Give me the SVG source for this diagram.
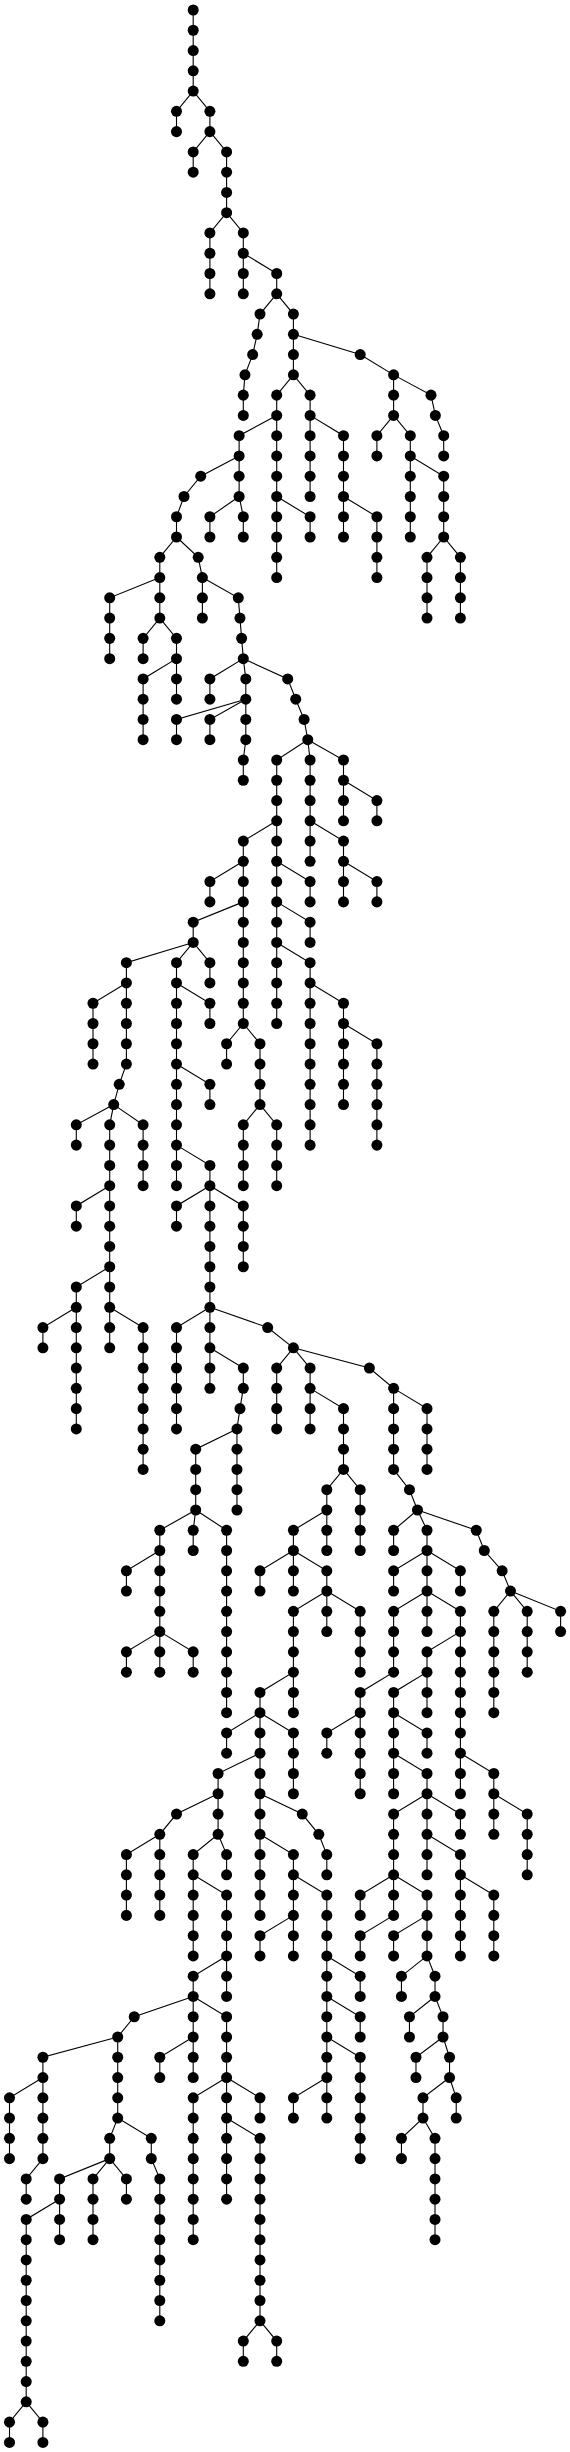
<svg xmlns="http://www.w3.org/2000/svg" width="570" height="2452" viewBox="0 0 570 2452">
<style>
#edges path{fill:none;stroke:#000;stroke-width:1.1;vector-effect:non-scaling-stroke}
#nodes use{fill:#000}
</style>
<defs><ellipse id="d" cx="0" cy="0" rx="0.33" ry="0.272"/></defs>
<rect width="570" height="2452" fill="#fff"/>
<g transform="matrix(16.7 0 0 20.27 9.5 10)">
<g id="edges">
<path d="M11 0V4"/><path d="M11 4L10 5V6"/><path d="M11 4L12 5V6"/><path d="M12 6L11 7V8"/><path d="M12 6L13 7V10"/>
<path d="M13 10L12 11V14"/><path d="M13 10L14 11V14"/><path d="M14 12L16 13V14"/>
<path d="M16 14L15 15L14.83 16L14.56 17L14.1 18L14 19V20"/><path d="M16 14L17 15V18"/><path d="M17 16L21 17L23 18"/>
<path d="M23 18V20"/><path d="M23 18L25.24 19L25.5 20L26 21V22"/><path d="M17 18L16 19V28"/><path d="M17 18L18 19V24"/>
<path d="M16 20L13.75 21V24"/><path d="M13.75 22L11.45 23L10.45 24L10 25V26"/><path d="M13.75 24L12 25V26"/><path d="M13.75 24L14 25V26"/>
<path d="M16 24L18 25V26"/><path d="M18 20L20 21V26"/><path d="M20 24L22 25V28"/><path d="M23 20L22 21V22"/><path d="M23 20L24 21V26"/>
<path d="M24 22L26 23V26"/><path d="M26 26L25 27V30"/><path d="M26 26L27 27V30"/><path d="M10 26L9 27V30"/><path d="M10 26L11.3 27L11.55 28V30"/>
<path d="M9 28L6 29V32"/><path d="M11.55 28L13.7 29L13.8 30L13.9 31L14 32"/><path d="M9 30L8 31V32"/><path d="M9 30L10 31V32"/>
<path d="M10 32L8 33V36"/><path d="M10 32V34"/><path d="M14 32L12 33V34"/><path d="M14 32L14.15 33V36L14 37V38"/>
<path d="M14.15 34L10 35V36"/><path d="M14.15 34L12 35V36"/><path d="M14 32L16.66 33L17.14 34L17.64 35L17.86 36"/>
<path d="M17.86 36L16 37V50"/><path d="M17.86 36L18 37V42"/><path d="M17.86 36L20 37V40"/><path d="M20 38L22 39V40"/>
<path d="M16 40L14 41V50"/><path d="M18 40L20 41V44"/><path d="M20 42L22 43V44"/><path d="M14 42L12 43V44"/><path d="M14 44L11 45V46"/>
<path d="M16 42L18 43V44"/><path d="M16 44L18 45V46"/><path d="M16 46L18 47V56"/><path d="M18 48L20 49V54"/><path d="M20 50L22 51V56"/>
<path d="M11 46L7 47V52L6.57 53L6.24 54"/><path d="M11 46L10 47V58"/><path d="M11 46L12 47V48"/><path d="M7 48L5 49V52"/><path d="M10 48L12 49V50"/>
<path d="M14 50L13 51V52"/><path d="M14 50L15 51V54"/><path d="M15 54L14 55V58"/><path d="M15 54L16 55V58"/><path d="M10 52L12 53V54"/>
<path d="M10 56L12 57V58"/><path d="M12 58L10 59V60"/><path d="M12 58V68"/><path d="M12 58L14 59V62"/>
<path d="M6.24 54L4 55V56"/><path d="M6.24 54L6 55V66"/><path d="M6.24 54L8 55V58"/><path d="M6 58L4 59V60"/><path d="M6 62L4 63V70"/>
<path d="M4 64L2 65V66"/><path d="M6 64L8 65V72"/><path d="M12 64L10 65V70"/><path d="M12 66L14 67V68L13.8 69L13.62 70V74"/>
<path d="M12 64L15.46 65L17 66"/><path d="M17 66L16 67V70"/><path d="M17 66L18 67V70"/><path d="M17 66L21.55 67L23 68V72L23.95 73L24.43 74"/>
<path d="M18 68L20 69V72"/><path d="M23 68L25 69V72"/><path d="M13.62 70L11.15 71V74"/><path d="M11.15 74L9 75V80"/><path d="M11.15 74L11 75V76"/>
<path d="M11.15 74L13 75V84"/><path d="M9 76L7 77V78"/><path d="M20 72L19 73V76"/><path d="M20 72L21 73V76"/><path d="M19 74L17 75V78"/>
<path d="M17 76L15 77V78"/><path d="M17 76L19 77V78"/><path d="M19 78L17 79V84"/><path d="M19 78V80"/><path d="M19 78L21 79V82"/>
<path d="M24.43 74L23 75V76"/><path d="M24.43 74L25 75V80"/><path d="M24.43 74L27.95 75L28.43 76L29.5 77L30 78"/>
<path d="M25 76L23 77V78"/><path d="M25 76L27 77V78"/><path d="M25 78L23 79V82"/><path d="M25 78L27 79V88"/>
<path d="M30 78L29 79V84"/><path d="M30 78L31 79V82"/><path d="M30 78L33 79V80"/>
<path d="M9 80L7 81V82"/><path d="M9 80V82"/><path d="M9 80L11 81V82"/><path d="M17 82L15 83V94"/><path d="M15 84L13 85V86"/>
<path d="M15 84L17 85V88"/><path d="M15 86L12.49 87V90"/><path d="M12.49 88L10 89L9 90V94"/><path d="M9 90L7 91V94"/>
<path d="M12.49 90L11 91V96"/><path d="M12.49 90L13 91V92"/><path d="M11 92L13 93V98"/><path d="M13 96L11 97V98"/>
<path d="M11 98L7.47 99L6.48 100V104"/><path d="M11 98V102"/><path d="M11 98L13 99V102"/><path d="M11 100L9 101V102"/>
<path d="M15 88L17.53 89L18.52 90L19 91V92"/><path d="M15 90L17 91V96"/><path d="M17 92L19 93V104"/><path d="M17 94L15 95V96"/>
<path d="M19 96L21 97V98"/><path d="M19 98L21 99V100"/><path d="M19 100L21 101V106"/><path d="M19 102L17 103V104"/>
<path d="M23 82L21 83V84"/><path d="M21 84L19 85V86"/><path d="M21 84V88"/><path d="M27 80L25 81V84"/><path d="M25 82L23 83V88"/>
<path d="M23 84L25 85V86"/><path d="M23 86L25 87V88"/><path d="M25 88L23 89V94"/><path d="M25 88V92"/><path d="M25 88L27 89V90"/>
<path d="M27 86L29 87V90"/><path d="M29 88L31 89V92"/><path d="M25 90L27 91V96"/><path d="M27 92L29 93V96"/>
<path d="M23 92L21 93V94"/><path d="M23 92L25 93V96"/><path d="M23 94L21 95V96"/><path d="M25 94L23 95V96"/>
<path d="M25 96L23.47 97V98"/><path d="M25 96L25.48 97V98"/><path d="M25.48 98L23.95 99V100"/><path d="M25.48 98L25.96 99V100"/>
<path d="M25.96 100L24.34 101V102"/><path d="M25.96 100L26.35 101V102"/><path d="M26.35 102L24.76 103V104"/><path d="M26.35 102L26.75 103V104"/>
<path d="M24.76 104L23.47 105V106"/><path d="M24.76 104L25.48 105V110"/>
<path d="M6.48 104L6 105V106"/><path d="M6.48 104L8.49 105V106L9 107V114"/><path d="M6.48 100L2 101V106"/><path d="M2 102L0 103V106"/>
<path d="M2 106L1 107V108"/><path d="M6 106L3 107V110"/><path d="M6 106L5 107V110"/><path d="M6 106L7 107V108"/><path d="M3 108L1 109V118"/>
<path d="M1 118L0 119V120"/><path d="M1 118L2 119V120"/><path d="M13 102L11 103V110"/><path d="M13 102V108"/><path d="M13 102L15 103V104"/>
<path d="M13 104L15 105V114"/><path d="M15 114L14 115V116"/><path d="M15 114L16 115V116"/>
</g>
<g id="nodes">
<g id="c1_1"><use href="#d" x="11" y="0"/></g><g id="c1_2"><use href="#d" x="11" y="1"/></g><g id="c1_3"><use href="#d" x="11" y="2"/></g><g id="c1_4"><use href="#d" x="11" y="3"/></g><g id="c1_5"><use href="#d" x="11" y="4"/></g>
<g id="c2_1"><use href="#d" x="10" y="5"/></g><g id="c2_2"><use href="#d" x="10" y="6"/></g>
<g id="c3_1"><use href="#d" x="12" y="5"/></g><g id="c3_2"><use href="#d" x="12" y="6"/></g>
<g id="c4_1"><use href="#d" x="11" y="7"/></g><g id="c4_2"><use href="#d" x="11" y="8"/></g>
<g id="c5_1"><use href="#d" x="13" y="7"/></g><g id="c5_2"><use href="#d" x="13" y="8"/></g><g id="c5_3"><use href="#d" x="13" y="9"/></g><g id="c5_4"><use href="#d" x="13" y="10"/></g>
<g id="c6_1"><use href="#d" x="12" y="11"/></g><g id="c6_2"><use href="#d" x="12" y="12"/></g><g id="c6_3"><use href="#d" x="12" y="13"/></g><g id="c6_4"><use href="#d" x="12" y="14"/></g>
<g id="c7_1"><use href="#d" x="14" y="11"/></g><g id="c7_2"><use href="#d" x="14" y="12"/></g><g id="c7_3"><use href="#d" x="14" y="13"/></g><g id="c7_4"><use href="#d" x="14" y="14"/></g>
<g id="c8_1"><use href="#d" x="16" y="13"/></g><g id="c8_2"><use href="#d" x="16" y="14"/></g>
<g id="c9_1"><use href="#d" x="15" y="15"/></g><g id="c9_2"><use href="#d" x="14.83" y="16"/></g><g id="c9_3"><use href="#d" x="14.56" y="17"/></g><g id="c9_4"><use href="#d" x="14.1" y="18"/></g><g id="c9_5"><use href="#d" x="14" y="19"/></g><g id="c9_6"><use href="#d" x="14" y="20"/></g>
<g id="c10_1"><use href="#d" x="17" y="15"/></g><g id="c10_2"><use href="#d" x="17" y="16"/></g><g id="c10_3"><use href="#d" x="17" y="17"/></g><g id="c10_4"><use href="#d" x="17" y="18"/></g>
<g id="c11_1"><use href="#d" x="21" y="17"/></g><g id="c11_2"><use href="#d" x="23" y="18"/></g>
<g id="c12_1"><use href="#d" x="23" y="19"/></g><g id="c12_2"><use href="#d" x="23" y="20"/></g>
<g id="c13_1"><use href="#d" x="25.24" y="19"/></g><g id="c13_2"><use href="#d" x="25.5" y="20"/></g><g id="c13_3"><use href="#d" x="26" y="21"/></g><g id="c13_4"><use href="#d" x="26" y="22"/></g>
<g id="c14_1"><use href="#d" x="16" y="19"/></g><g id="c14_2"><use href="#d" x="16" y="20"/></g><g id="c14_3"><use href="#d" x="16" y="21"/></g><g id="c14_4"><use href="#d" x="16" y="22"/></g><g id="c14_5"><use href="#d" x="16" y="23"/></g><g id="c14_6"><use href="#d" x="16" y="24"/></g><g id="c14_7"><use href="#d" x="16" y="25"/></g><g id="c14_8"><use href="#d" x="16" y="26"/></g><g id="c14_9"><use href="#d" x="16" y="27"/></g><g id="c14_10"><use href="#d" x="16" y="28"/></g>
<g id="c15_1"><use href="#d" x="18" y="19"/></g><g id="c15_2"><use href="#d" x="18" y="20"/></g><g id="c15_3"><use href="#d" x="18" y="21"/></g><g id="c15_4"><use href="#d" x="18" y="22"/></g><g id="c15_5"><use href="#d" x="18" y="23"/></g><g id="c15_6"><use href="#d" x="18" y="24"/></g>
<g id="c16_1"><use href="#d" x="13.75" y="21"/></g><g id="c16_2"><use href="#d" x="13.75" y="22"/></g><g id="c16_3"><use href="#d" x="13.75" y="23"/></g><g id="c16_4"><use href="#d" x="13.75" y="24"/></g>
<g id="c17_1"><use href="#d" x="11.45" y="23"/></g><g id="c17_2"><use href="#d" x="10.45" y="24"/></g><g id="c17_3"><use href="#d" x="10" y="25"/></g><g id="c17_4"><use href="#d" x="10" y="26"/></g>
<g id="c18_1"><use href="#d" x="12" y="25"/></g><g id="c18_2"><use href="#d" x="12" y="26"/></g>
<g id="c19_1"><use href="#d" x="14" y="25"/></g><g id="c19_2"><use href="#d" x="14" y="26"/></g>
<g id="c20_1"><use href="#d" x="18" y="25"/></g><g id="c20_2"><use href="#d" x="18" y="26"/></g>
<g id="c21_1"><use href="#d" x="20" y="21"/></g><g id="c21_2"><use href="#d" x="20" y="22"/></g><g id="c21_3"><use href="#d" x="20" y="23"/></g><g id="c21_4"><use href="#d" x="20" y="24"/></g><g id="c21_5"><use href="#d" x="20" y="25"/></g><g id="c21_6"><use href="#d" x="20" y="26"/></g>
<g id="c22_1"><use href="#d" x="22" y="25"/></g><g id="c22_2"><use href="#d" x="22" y="26"/></g><g id="c22_3"><use href="#d" x="22" y="27"/></g><g id="c22_4"><use href="#d" x="22" y="28"/></g>
<g id="c23_1"><use href="#d" x="22" y="21"/></g><g id="c23_2"><use href="#d" x="22" y="22"/></g>
<g id="c24_1"><use href="#d" x="24" y="21"/></g><g id="c24_2"><use href="#d" x="24" y="22"/></g><g id="c24_3"><use href="#d" x="24" y="23"/></g><g id="c24_4"><use href="#d" x="24" y="24"/></g><g id="c24_5"><use href="#d" x="24" y="25"/></g><g id="c24_6"><use href="#d" x="24" y="26"/></g>
<g id="c25_1"><use href="#d" x="26" y="23"/></g><g id="c25_2"><use href="#d" x="26" y="24"/></g><g id="c25_3"><use href="#d" x="26" y="25"/></g><g id="c25_4"><use href="#d" x="26" y="26"/></g>
<g id="c26_1"><use href="#d" x="25" y="27"/></g><g id="c26_2"><use href="#d" x="25" y="28"/></g><g id="c26_3"><use href="#d" x="25" y="29"/></g><g id="c26_4"><use href="#d" x="25" y="30"/></g>
<g id="c27_1"><use href="#d" x="27" y="27"/></g><g id="c27_2"><use href="#d" x="27" y="28"/></g><g id="c27_3"><use href="#d" x="27" y="29"/></g><g id="c27_4"><use href="#d" x="27" y="30"/></g>
<g id="c28_1"><use href="#d" x="9" y="27"/></g><g id="c28_2"><use href="#d" x="9" y="28"/></g><g id="c28_3"><use href="#d" x="9" y="29"/></g><g id="c28_4"><use href="#d" x="9" y="30"/></g>
<g id="c29_1"><use href="#d" x="11.3" y="27"/></g><g id="c29_2"><use href="#d" x="11.55" y="28"/></g><g id="c29_3"><use href="#d" x="11.55" y="29"/></g><g id="c29_4"><use href="#d" x="11.55" y="30"/></g>
<g id="c30_1"><use href="#d" x="6" y="29"/></g><g id="c30_2"><use href="#d" x="6" y="30"/></g><g id="c30_3"><use href="#d" x="6" y="31"/></g><g id="c30_4"><use href="#d" x="6" y="32"/></g>
<g id="c31_1"><use href="#d" x="13.7" y="29"/></g><g id="c31_2"><use href="#d" x="13.8" y="30"/></g><g id="c31_3"><use href="#d" x="13.9" y="31"/></g><g id="c31_4"><use href="#d" x="14" y="32"/></g>
<g id="c32_1"><use href="#d" x="8" y="31"/></g><g id="c32_2"><use href="#d" x="8" y="32"/></g>
<g id="c33_1"><use href="#d" x="10" y="31"/></g><g id="c33_2"><use href="#d" x="10" y="32"/></g>
<g id="c34_1"><use href="#d" x="8" y="33"/></g><g id="c34_2"><use href="#d" x="8" y="34"/></g><g id="c34_3"><use href="#d" x="8" y="35"/></g><g id="c34_4"><use href="#d" x="8" y="36"/></g>
<g id="c35_1"><use href="#d" x="10" y="33"/></g><g id="c35_2"><use href="#d" x="10" y="34"/></g>
<g id="c36_1"><use href="#d" x="12" y="33"/></g><g id="c36_2"><use href="#d" x="12" y="34"/></g>
<g id="c37_1"><use href="#d" x="14.15" y="33"/></g><g id="c37_2"><use href="#d" x="14.15" y="34"/></g><g id="c37_3"><use href="#d" x="14.15" y="35"/></g><g id="c37_4"><use href="#d" x="14.15" y="36"/></g><g id="c37_5"><use href="#d" x="14" y="37"/></g><g id="c37_6"><use href="#d" x="14" y="38"/></g>
<g id="c38_1"><use href="#d" x="10" y="35"/></g><g id="c38_2"><use href="#d" x="10" y="36"/></g>
<g id="c39_1"><use href="#d" x="12" y="35"/></g><g id="c39_2"><use href="#d" x="12" y="36"/></g>
<g id="c40_1"><use href="#d" x="16.66" y="33"/></g><g id="c40_2"><use href="#d" x="17.14" y="34"/></g><g id="c40_3"><use href="#d" x="17.64" y="35"/></g><g id="c40_4"><use href="#d" x="17.86" y="36"/></g>
<g id="c41_1"><use href="#d" x="16" y="37"/></g><g id="c41_2"><use href="#d" x="16" y="38"/></g><g id="c41_3"><use href="#d" x="16" y="39"/></g><g id="c41_4"><use href="#d" x="16" y="40"/></g><g id="c41_5"><use href="#d" x="16" y="41"/></g><g id="c41_6"><use href="#d" x="16" y="42"/></g><g id="c41_7"><use href="#d" x="16" y="43"/></g><g id="c41_8"><use href="#d" x="16" y="44"/></g><g id="c41_9"><use href="#d" x="16" y="45"/></g><g id="c41_10"><use href="#d" x="16" y="46"/></g><g id="c41_11"><use href="#d" x="16" y="47"/></g><g id="c41_12"><use href="#d" x="16" y="48"/></g><g id="c41_13"><use href="#d" x="16" y="49"/></g><g id="c41_14"><use href="#d" x="16" y="50"/></g>
<g id="c42_1"><use href="#d" x="18" y="37"/></g><g id="c42_2"><use href="#d" x="18" y="38"/></g><g id="c42_3"><use href="#d" x="18" y="39"/></g><g id="c42_4"><use href="#d" x="18" y="40"/></g><g id="c42_5"><use href="#d" x="18" y="41"/></g><g id="c42_6"><use href="#d" x="18" y="42"/></g>
<g id="c43_1"><use href="#d" x="20" y="37"/></g><g id="c43_2"><use href="#d" x="20" y="38"/></g><g id="c43_3"><use href="#d" x="20" y="39"/></g><g id="c43_4"><use href="#d" x="20" y="40"/></g>
<g id="c44_1"><use href="#d" x="22" y="39"/></g><g id="c44_2"><use href="#d" x="22" y="40"/></g>
<g id="c45_1"><use href="#d" x="14" y="41"/></g><g id="c45_2"><use href="#d" x="14" y="42"/></g><g id="c45_3"><use href="#d" x="14" y="43"/></g><g id="c45_4"><use href="#d" x="14" y="44"/></g><g id="c45_5"><use href="#d" x="14" y="45"/></g><g id="c45_6"><use href="#d" x="14" y="46"/></g><g id="c45_7"><use href="#d" x="14" y="47"/></g><g id="c45_8"><use href="#d" x="14" y="48"/></g><g id="c45_9"><use href="#d" x="14" y="49"/></g><g id="c45_10"><use href="#d" x="14" y="50"/></g>
<g id="c46_1"><use href="#d" x="20" y="41"/></g><g id="c46_2"><use href="#d" x="20" y="42"/></g><g id="c46_3"><use href="#d" x="20" y="43"/></g><g id="c46_4"><use href="#d" x="20" y="44"/></g>
<g id="c47_1"><use href="#d" x="22" y="43"/></g><g id="c47_2"><use href="#d" x="22" y="44"/></g>
<g id="c48_1"><use href="#d" x="12" y="43"/></g><g id="c48_2"><use href="#d" x="12" y="44"/></g>
<g id="c49_1"><use href="#d" x="11" y="45"/></g><g id="c49_2"><use href="#d" x="11" y="46"/></g>
<g id="c50_1"><use href="#d" x="18" y="43"/></g><g id="c50_2"><use href="#d" x="18" y="44"/></g>
<g id="c51_1"><use href="#d" x="18" y="45"/></g><g id="c51_2"><use href="#d" x="18" y="46"/></g>
<g id="c52_1"><use href="#d" x="18" y="47"/></g><g id="c52_2"><use href="#d" x="18" y="48"/></g><g id="c52_3"><use href="#d" x="18" y="49"/></g><g id="c52_4"><use href="#d" x="18" y="50"/></g><g id="c52_5"><use href="#d" x="18" y="51"/></g><g id="c52_6"><use href="#d" x="18" y="52"/></g><g id="c52_7"><use href="#d" x="18" y="53"/></g><g id="c52_8"><use href="#d" x="18" y="54"/></g><g id="c52_9"><use href="#d" x="18" y="55"/></g><g id="c52_10"><use href="#d" x="18" y="56"/></g>
<g id="c53_1"><use href="#d" x="20" y="49"/></g><g id="c53_2"><use href="#d" x="20" y="50"/></g><g id="c53_3"><use href="#d" x="20" y="51"/></g><g id="c53_4"><use href="#d" x="20" y="52"/></g><g id="c53_5"><use href="#d" x="20" y="53"/></g><g id="c53_6"><use href="#d" x="20" y="54"/></g>
<g id="c54_1"><use href="#d" x="22" y="51"/></g><g id="c54_2"><use href="#d" x="22" y="52"/></g><g id="c54_3"><use href="#d" x="22" y="53"/></g><g id="c54_4"><use href="#d" x="22" y="54"/></g><g id="c54_5"><use href="#d" x="22" y="55"/></g><g id="c54_6"><use href="#d" x="22" y="56"/></g>
<g id="c55_1"><use href="#d" x="7" y="47"/></g><g id="c55_2"><use href="#d" x="7" y="48"/></g><g id="c55_3"><use href="#d" x="7" y="49"/></g><g id="c55_4"><use href="#d" x="7" y="50"/></g><g id="c55_5"><use href="#d" x="7" y="51"/></g><g id="c55_6"><use href="#d" x="7" y="52"/></g><g id="c55_7"><use href="#d" x="6.57" y="53"/></g><g id="c55_8"><use href="#d" x="6.24" y="54"/></g>
<g id="c56_1"><use href="#d" x="10" y="47"/></g><g id="c56_2"><use href="#d" x="10" y="48"/></g><g id="c56_3"><use href="#d" x="10" y="49"/></g><g id="c56_4"><use href="#d" x="10" y="50"/></g><g id="c56_5"><use href="#d" x="10" y="51"/></g><g id="c56_6"><use href="#d" x="10" y="52"/></g><g id="c56_7"><use href="#d" x="10" y="53"/></g><g id="c56_8"><use href="#d" x="10" y="54"/></g><g id="c56_9"><use href="#d" x="10" y="55"/></g><g id="c56_10"><use href="#d" x="10" y="56"/></g><g id="c56_11"><use href="#d" x="10" y="57"/></g><g id="c56_12"><use href="#d" x="10" y="58"/></g>
<g id="c57_1"><use href="#d" x="12" y="47"/></g><g id="c57_2"><use href="#d" x="12" y="48"/></g>
<g id="c58_1"><use href="#d" x="5" y="49"/></g><g id="c58_2"><use href="#d" x="5" y="50"/></g><g id="c58_3"><use href="#d" x="5" y="51"/></g><g id="c58_4"><use href="#d" x="5" y="52"/></g>
<g id="c59_1"><use href="#d" x="12" y="49"/></g><g id="c59_2"><use href="#d" x="12" y="50"/></g>
<g id="c60_1"><use href="#d" x="13" y="51"/></g><g id="c60_2"><use href="#d" x="13" y="52"/></g>
<g id="c61_1"><use href="#d" x="15" y="51"/></g><g id="c61_2"><use href="#d" x="15" y="52"/></g><g id="c61_3"><use href="#d" x="15" y="53"/></g><g id="c61_4"><use href="#d" x="15" y="54"/></g>
<g id="c62_1"><use href="#d" x="14" y="55"/></g><g id="c62_2"><use href="#d" x="14" y="56"/></g><g id="c62_3"><use href="#d" x="14" y="57"/></g><g id="c62_4"><use href="#d" x="14" y="58"/></g>
<g id="c63_1"><use href="#d" x="16" y="55"/></g><g id="c63_2"><use href="#d" x="16" y="56"/></g><g id="c63_3"><use href="#d" x="16" y="57"/></g><g id="c63_4"><use href="#d" x="16" y="58"/></g>
<g id="c64_1"><use href="#d" x="12" y="53"/></g><g id="c64_2"><use href="#d" x="12" y="54"/></g>
<g id="c65_1"><use href="#d" x="12" y="57"/></g><g id="c65_2"><use href="#d" x="12" y="58"/></g>
<g id="c66_1"><use href="#d" x="10" y="59"/></g><g id="c66_2"><use href="#d" x="10" y="60"/></g>
<g id="c67_1"><use href="#d" x="12" y="59"/></g><g id="c67_2"><use href="#d" x="12" y="60"/></g><g id="c67_3"><use href="#d" x="12" y="61"/></g><g id="c67_4"><use href="#d" x="12" y="62"/></g><g id="c67_5"><use href="#d" x="12" y="63"/></g><g id="c67_6"><use href="#d" x="12" y="64"/></g><g id="c67_7"><use href="#d" x="12" y="65"/></g><g id="c67_8"><use href="#d" x="12" y="66"/></g><g id="c67_9"><use href="#d" x="12" y="67"/></g><g id="c67_10"><use href="#d" x="12" y="68"/></g>
<g id="c68_1"><use href="#d" x="14" y="59"/></g><g id="c68_2"><use href="#d" x="14" y="60"/></g><g id="c68_3"><use href="#d" x="14" y="61"/></g><g id="c68_4"><use href="#d" x="14" y="62"/></g>
<g id="c69_1"><use href="#d" x="4" y="55"/></g><g id="c69_2"><use href="#d" x="4" y="56"/></g>
<g id="c70_1"><use href="#d" x="6" y="55"/></g><g id="c70_2"><use href="#d" x="6" y="56"/></g><g id="c70_3"><use href="#d" x="6" y="57"/></g><g id="c70_4"><use href="#d" x="6" y="58"/></g><g id="c70_5"><use href="#d" x="6" y="59"/></g><g id="c70_6"><use href="#d" x="6" y="60"/></g><g id="c70_7"><use href="#d" x="6" y="61"/></g><g id="c70_8"><use href="#d" x="6" y="62"/></g><g id="c70_9"><use href="#d" x="6" y="63"/></g><g id="c70_10"><use href="#d" x="6" y="64"/></g><g id="c70_11"><use href="#d" x="6" y="65"/></g><g id="c70_12"><use href="#d" x="6" y="66"/></g>
<g id="c71_1"><use href="#d" x="8" y="55"/></g><g id="c71_2"><use href="#d" x="8" y="56"/></g><g id="c71_3"><use href="#d" x="8" y="57"/></g><g id="c71_4"><use href="#d" x="8" y="58"/></g>
<g id="c72_1"><use href="#d" x="4" y="59"/></g><g id="c72_2"><use href="#d" x="4" y="60"/></g>
<g id="c73_1"><use href="#d" x="4" y="63"/></g><g id="c73_2"><use href="#d" x="4" y="64"/></g><g id="c73_3"><use href="#d" x="4" y="65"/></g><g id="c73_4"><use href="#d" x="4" y="66"/></g><g id="c73_5"><use href="#d" x="4" y="67"/></g><g id="c73_6"><use href="#d" x="4" y="68"/></g><g id="c73_7"><use href="#d" x="4" y="69"/></g><g id="c73_8"><use href="#d" x="4" y="70"/></g>
<g id="c74_1"><use href="#d" x="2" y="65"/></g><g id="c74_2"><use href="#d" x="2" y="66"/></g>
<g id="c75_1"><use href="#d" x="8" y="65"/></g><g id="c75_2"><use href="#d" x="8" y="66"/></g><g id="c75_3"><use href="#d" x="8" y="67"/></g><g id="c75_4"><use href="#d" x="8" y="68"/></g><g id="c75_5"><use href="#d" x="8" y="69"/></g><g id="c75_6"><use href="#d" x="8" y="70"/></g><g id="c75_7"><use href="#d" x="8" y="71"/></g><g id="c75_8"><use href="#d" x="8" y="72"/></g>
<g id="c76_1"><use href="#d" x="10" y="65"/></g><g id="c76_2"><use href="#d" x="10" y="66"/></g><g id="c76_3"><use href="#d" x="10" y="67"/></g><g id="c76_4"><use href="#d" x="10" y="68"/></g><g id="c76_5"><use href="#d" x="10" y="69"/></g><g id="c76_6"><use href="#d" x="10" y="70"/></g>
<g id="c77_1"><use href="#d" x="14" y="67"/></g><g id="c77_2"><use href="#d" x="14" y="68"/></g><g id="c77_3"><use href="#d" x="13.8" y="69"/></g><g id="c77_4"><use href="#d" x="13.62" y="70"/></g><g id="c77_5"><use href="#d" x="13.62" y="71"/></g><g id="c77_6"><use href="#d" x="13.62" y="72"/></g><g id="c77_7"><use href="#d" x="13.62" y="73"/></g><g id="c77_8"><use href="#d" x="13.62" y="74"/></g>
<g id="c78_1"><use href="#d" x="15.46" y="65"/></g><g id="c78_2"><use href="#d" x="17" y="66"/></g>
<g id="c79_1"><use href="#d" x="16" y="67"/></g><g id="c79_2"><use href="#d" x="16" y="68"/></g><g id="c79_3"><use href="#d" x="16" y="69"/></g><g id="c79_4"><use href="#d" x="16" y="70"/></g>
<g id="c80_1"><use href="#d" x="18" y="67"/></g><g id="c80_2"><use href="#d" x="18" y="68"/></g><g id="c80_3"><use href="#d" x="18" y="69"/></g><g id="c80_4"><use href="#d" x="18" y="70"/></g>
<g id="c81_1"><use href="#d" x="21.55" y="67"/></g><g id="c81_2"><use href="#d" x="23" y="68"/></g><g id="c81_3"><use href="#d" x="23" y="69"/></g><g id="c81_4"><use href="#d" x="23" y="70"/></g><g id="c81_5"><use href="#d" x="23" y="71"/></g><g id="c81_6"><use href="#d" x="23" y="72"/></g><g id="c81_7"><use href="#d" x="23.95" y="73"/></g><g id="c81_8"><use href="#d" x="24.43" y="74"/></g>
<g id="c82_1"><use href="#d" x="20" y="69"/></g><g id="c82_2"><use href="#d" x="20" y="70"/></g><g id="c82_3"><use href="#d" x="20" y="71"/></g><g id="c82_4"><use href="#d" x="20" y="72"/></g>
<g id="c83_1"><use href="#d" x="25" y="69"/></g><g id="c83_2"><use href="#d" x="25" y="70"/></g><g id="c83_3"><use href="#d" x="25" y="71"/></g><g id="c83_4"><use href="#d" x="25" y="72"/></g>
<g id="c84_1"><use href="#d" x="11.15" y="71"/></g><g id="c84_2"><use href="#d" x="11.15" y="72"/></g><g id="c84_3"><use href="#d" x="11.15" y="73"/></g><g id="c84_4"><use href="#d" x="11.15" y="74"/></g>
<g id="c85_1"><use href="#d" x="9" y="75"/></g><g id="c85_2"><use href="#d" x="9" y="76"/></g><g id="c85_3"><use href="#d" x="9" y="77"/></g><g id="c85_4"><use href="#d" x="9" y="78"/></g><g id="c85_5"><use href="#d" x="9" y="79"/></g><g id="c85_6"><use href="#d" x="9" y="80"/></g>
<g id="c86_1"><use href="#d" x="11" y="75"/></g><g id="c86_2"><use href="#d" x="11" y="76"/></g>
<g id="c87_1"><use href="#d" x="13" y="75"/></g><g id="c87_2"><use href="#d" x="13" y="76"/></g><g id="c87_3"><use href="#d" x="13" y="77"/></g><g id="c87_4"><use href="#d" x="13" y="78"/></g><g id="c87_5"><use href="#d" x="13" y="79"/></g><g id="c87_6"><use href="#d" x="13" y="80"/></g><g id="c87_7"><use href="#d" x="13" y="81"/></g><g id="c87_8"><use href="#d" x="13" y="82"/></g><g id="c87_9"><use href="#d" x="13" y="83"/></g><g id="c87_10"><use href="#d" x="13" y="84"/></g>
<g id="c88_1"><use href="#d" x="7" y="77"/></g><g id="c88_2"><use href="#d" x="7" y="78"/></g>
<g id="c89_1"><use href="#d" x="19" y="73"/></g><g id="c89_2"><use href="#d" x="19" y="74"/></g><g id="c89_3"><use href="#d" x="19" y="75"/></g><g id="c89_4"><use href="#d" x="19" y="76"/></g>
<g id="c90_1"><use href="#d" x="21" y="73"/></g><g id="c90_2"><use href="#d" x="21" y="74"/></g><g id="c90_3"><use href="#d" x="21" y="75"/></g><g id="c90_4"><use href="#d" x="21" y="76"/></g>
<g id="c91_1"><use href="#d" x="17" y="75"/></g><g id="c91_2"><use href="#d" x="17" y="76"/></g><g id="c91_3"><use href="#d" x="17" y="77"/></g><g id="c91_4"><use href="#d" x="17" y="78"/></g>
<g id="c92_1"><use href="#d" x="15" y="77"/></g><g id="c92_2"><use href="#d" x="15" y="78"/></g>
<g id="c93_1"><use href="#d" x="19" y="77"/></g><g id="c93_2"><use href="#d" x="19" y="78"/></g>
<g id="c94_1"><use href="#d" x="17" y="79"/></g><g id="c94_2"><use href="#d" x="17" y="80"/></g><g id="c94_3"><use href="#d" x="17" y="81"/></g><g id="c94_4"><use href="#d" x="17" y="82"/></g><g id="c94_5"><use href="#d" x="17" y="83"/></g><g id="c94_6"><use href="#d" x="17" y="84"/></g>
<g id="c95_1"><use href="#d" x="19" y="79"/></g><g id="c95_2"><use href="#d" x="19" y="80"/></g>
<g id="c96_1"><use href="#d" x="21" y="79"/></g><g id="c96_2"><use href="#d" x="21" y="80"/></g><g id="c96_3"><use href="#d" x="21" y="81"/></g><g id="c96_4"><use href="#d" x="21" y="82"/></g>
<g id="c97_1"><use href="#d" x="23" y="75"/></g><g id="c97_2"><use href="#d" x="23" y="76"/></g>
<g id="c98_1"><use href="#d" x="25" y="75"/></g><g id="c98_2"><use href="#d" x="25" y="76"/></g><g id="c98_3"><use href="#d" x="25" y="77"/></g><g id="c98_4"><use href="#d" x="25" y="78"/></g><g id="c98_5"><use href="#d" x="25" y="79"/></g><g id="c98_6"><use href="#d" x="25" y="80"/></g>
<g id="c99_1"><use href="#d" x="27.95" y="75"/></g><g id="c99_2"><use href="#d" x="28.43" y="76"/></g><g id="c99_3"><use href="#d" x="29.5" y="77"/></g><g id="c99_4"><use href="#d" x="30" y="78"/></g>
<g id="c100_1"><use href="#d" x="23" y="77"/></g><g id="c100_2"><use href="#d" x="23" y="78"/></g>
<g id="c101_1"><use href="#d" x="27" y="77"/></g><g id="c101_2"><use href="#d" x="27" y="78"/></g>
<g id="c102_1"><use href="#d" x="23" y="79"/></g><g id="c102_2"><use href="#d" x="23" y="80"/></g><g id="c102_3"><use href="#d" x="23" y="81"/></g><g id="c102_4"><use href="#d" x="23" y="82"/></g>
<g id="c103_1"><use href="#d" x="27" y="79"/></g><g id="c103_2"><use href="#d" x="27" y="80"/></g><g id="c103_3"><use href="#d" x="27" y="81"/></g><g id="c103_4"><use href="#d" x="27" y="82"/></g><g id="c103_5"><use href="#d" x="27" y="83"/></g><g id="c103_6"><use href="#d" x="27" y="84"/></g><g id="c103_7"><use href="#d" x="27" y="85"/></g><g id="c103_8"><use href="#d" x="27" y="86"/></g><g id="c103_9"><use href="#d" x="27" y="87"/></g><g id="c103_10"><use href="#d" x="27" y="88"/></g>
<g id="c104_1"><use href="#d" x="29" y="79"/></g><g id="c104_2"><use href="#d" x="29" y="80"/></g><g id="c104_3"><use href="#d" x="29" y="81"/></g><g id="c104_4"><use href="#d" x="29" y="82"/></g><g id="c104_5"><use href="#d" x="29" y="83"/></g><g id="c104_6"><use href="#d" x="29" y="84"/></g>
<g id="c105_1"><use href="#d" x="31" y="79"/></g><g id="c105_2"><use href="#d" x="31" y="80"/></g><g id="c105_3"><use href="#d" x="31" y="81"/></g><g id="c105_4"><use href="#d" x="31" y="82"/></g>
<g id="c106_1"><use href="#d" x="33" y="79"/></g><g id="c106_2"><use href="#d" x="33" y="80"/></g>
<g id="c107_1"><use href="#d" x="7" y="81"/></g><g id="c107_2"><use href="#d" x="7" y="82"/></g>
<g id="c108_1"><use href="#d" x="9" y="81"/></g><g id="c108_2"><use href="#d" x="9" y="82"/></g>
<g id="c109_1"><use href="#d" x="11" y="81"/></g><g id="c109_2"><use href="#d" x="11" y="82"/></g>
<g id="c110_1"><use href="#d" x="15" y="83"/></g><g id="c110_2"><use href="#d" x="15" y="84"/></g><g id="c110_3"><use href="#d" x="15" y="85"/></g><g id="c110_4"><use href="#d" x="15" y="86"/></g><g id="c110_5"><use href="#d" x="15" y="87"/></g><g id="c110_6"><use href="#d" x="15" y="88"/></g><g id="c110_7"><use href="#d" x="15" y="89"/></g><g id="c110_8"><use href="#d" x="15" y="90"/></g><g id="c110_9"><use href="#d" x="15" y="91"/></g><g id="c110_10"><use href="#d" x="15" y="92"/></g><g id="c110_11"><use href="#d" x="15" y="93"/></g><g id="c110_12"><use href="#d" x="15" y="94"/></g>
<g id="c111_1"><use href="#d" x="13" y="85"/></g><g id="c111_2"><use href="#d" x="13" y="86"/></g>
<g id="c112_1"><use href="#d" x="17" y="85"/></g><g id="c112_2"><use href="#d" x="17" y="86"/></g><g id="c112_3"><use href="#d" x="17" y="87"/></g><g id="c112_4"><use href="#d" x="17" y="88"/></g>
<g id="c113_1"><use href="#d" x="12.49" y="87"/></g><g id="c113_2"><use href="#d" x="12.49" y="88"/></g><g id="c113_3"><use href="#d" x="12.49" y="89"/></g><g id="c113_4"><use href="#d" x="12.49" y="90"/></g>
<g id="c114_1"><use href="#d" x="10" y="89"/></g><g id="c114_2"><use href="#d" x="9" y="90"/></g><g id="c114_3"><use href="#d" x="9" y="91"/></g><g id="c114_4"><use href="#d" x="9" y="92"/></g><g id="c114_5"><use href="#d" x="9" y="93"/></g><g id="c114_6"><use href="#d" x="9" y="94"/></g>
<g id="c115_1"><use href="#d" x="7" y="91"/></g><g id="c115_2"><use href="#d" x="7" y="92"/></g><g id="c115_3"><use href="#d" x="7" y="93"/></g><g id="c115_4"><use href="#d" x="7" y="94"/></g>
<g id="c116_1"><use href="#d" x="11" y="91"/></g><g id="c116_2"><use href="#d" x="11" y="92"/></g><g id="c116_3"><use href="#d" x="11" y="93"/></g><g id="c116_4"><use href="#d" x="11" y="94"/></g><g id="c116_5"><use href="#d" x="11" y="95"/></g><g id="c116_6"><use href="#d" x="11" y="96"/></g>
<g id="c117_1"><use href="#d" x="13" y="91"/></g><g id="c117_2"><use href="#d" x="13" y="92"/></g>
<g id="c118_1"><use href="#d" x="13" y="93"/></g><g id="c118_2"><use href="#d" x="13" y="94"/></g><g id="c118_3"><use href="#d" x="13" y="95"/></g><g id="c118_4"><use href="#d" x="13" y="96"/></g><g id="c118_5"><use href="#d" x="13" y="97"/></g><g id="c118_6"><use href="#d" x="13" y="98"/></g>
<g id="c119_1"><use href="#d" x="11" y="97"/></g><g id="c119_2"><use href="#d" x="11" y="98"/></g>
<g id="c120_1"><use href="#d" x="7.47" y="99"/></g><g id="c120_2"><use href="#d" x="6.48" y="100"/></g><g id="c120_3"><use href="#d" x="6.48" y="101"/></g><g id="c120_4"><use href="#d" x="6.48" y="102"/></g><g id="c120_5"><use href="#d" x="6.48" y="103"/></g><g id="c120_6"><use href="#d" x="6.48" y="104"/></g>
<g id="c121_1"><use href="#d" x="11" y="99"/></g><g id="c121_2"><use href="#d" x="11" y="100"/></g><g id="c121_3"><use href="#d" x="11" y="101"/></g><g id="c121_4"><use href="#d" x="11" y="102"/></g>
<g id="c122_1"><use href="#d" x="13" y="99"/></g><g id="c122_2"><use href="#d" x="13" y="100"/></g><g id="c122_3"><use href="#d" x="13" y="101"/></g><g id="c122_4"><use href="#d" x="13" y="102"/></g>
<g id="c123_1"><use href="#d" x="9" y="101"/></g><g id="c123_2"><use href="#d" x="9" y="102"/></g>
<g id="c124_1"><use href="#d" x="17.53" y="89"/></g><g id="c124_2"><use href="#d" x="18.52" y="90"/></g><g id="c124_3"><use href="#d" x="19" y="91"/></g><g id="c124_4"><use href="#d" x="19" y="92"/></g>
<g id="c125_1"><use href="#d" x="17" y="91"/></g><g id="c125_2"><use href="#d" x="17" y="92"/></g><g id="c125_3"><use href="#d" x="17" y="93"/></g><g id="c125_4"><use href="#d" x="17" y="94"/></g><g id="c125_5"><use href="#d" x="17" y="95"/></g><g id="c125_6"><use href="#d" x="17" y="96"/></g>
<g id="c126_1"><use href="#d" x="19" y="93"/></g><g id="c126_2"><use href="#d" x="19" y="94"/></g><g id="c126_3"><use href="#d" x="19" y="95"/></g><g id="c126_4"><use href="#d" x="19" y="96"/></g><g id="c126_5"><use href="#d" x="19" y="97"/></g><g id="c126_6"><use href="#d" x="19" y="98"/></g><g id="c126_7"><use href="#d" x="19" y="99"/></g><g id="c126_8"><use href="#d" x="19" y="100"/></g><g id="c126_9"><use href="#d" x="19" y="101"/></g><g id="c126_10"><use href="#d" x="19" y="102"/></g><g id="c126_11"><use href="#d" x="19" y="103"/></g><g id="c126_12"><use href="#d" x="19" y="104"/></g>
<g id="c127_1"><use href="#d" x="15" y="95"/></g><g id="c127_2"><use href="#d" x="15" y="96"/></g>
<g id="c128_1"><use href="#d" x="21" y="97"/></g><g id="c128_2"><use href="#d" x="21" y="98"/></g>
<g id="c129_1"><use href="#d" x="21" y="99"/></g><g id="c129_2"><use href="#d" x="21" y="100"/></g>
<g id="c130_1"><use href="#d" x="21" y="101"/></g><g id="c130_2"><use href="#d" x="21" y="102"/></g><g id="c130_3"><use href="#d" x="21" y="103"/></g><g id="c130_4"><use href="#d" x="21" y="104"/></g><g id="c130_5"><use href="#d" x="21" y="105"/></g><g id="c130_6"><use href="#d" x="21" y="106"/></g>
<g id="c131_1"><use href="#d" x="17" y="103"/></g><g id="c131_2"><use href="#d" x="17" y="104"/></g>
<g id="c132_1"><use href="#d" x="21" y="83"/></g><g id="c132_2"><use href="#d" x="21" y="84"/></g>
<g id="c133_1"><use href="#d" x="19" y="85"/></g><g id="c133_2"><use href="#d" x="19" y="86"/></g>
<g id="c134_1"><use href="#d" x="21" y="85"/></g><g id="c134_2"><use href="#d" x="21" y="86"/></g><g id="c134_3"><use href="#d" x="21" y="87"/></g><g id="c134_4"><use href="#d" x="21" y="88"/></g>
<g id="c135_1"><use href="#d" x="25" y="81"/></g><g id="c135_2"><use href="#d" x="25" y="82"/></g><g id="c135_3"><use href="#d" x="25" y="83"/></g><g id="c135_4"><use href="#d" x="25" y="84"/></g>
<g id="c136_1"><use href="#d" x="23" y="83"/></g><g id="c136_2"><use href="#d" x="23" y="84"/></g><g id="c136_3"><use href="#d" x="23" y="85"/></g><g id="c136_4"><use href="#d" x="23" y="86"/></g><g id="c136_5"><use href="#d" x="23" y="87"/></g><g id="c136_6"><use href="#d" x="23" y="88"/></g>
<g id="c137_1"><use href="#d" x="25" y="85"/></g><g id="c137_2"><use href="#d" x="25" y="86"/></g>
<g id="c138_1"><use href="#d" x="25" y="87"/></g><g id="c138_2"><use href="#d" x="25" y="88"/></g>
<g id="c139_1"><use href="#d" x="23" y="89"/></g><g id="c139_2"><use href="#d" x="23" y="90"/></g><g id="c139_3"><use href="#d" x="23" y="91"/></g><g id="c139_4"><use href="#d" x="23" y="92"/></g><g id="c139_5"><use href="#d" x="23" y="93"/></g><g id="c139_6"><use href="#d" x="23" y="94"/></g>
<g id="c140_1"><use href="#d" x="25" y="89"/></g><g id="c140_2"><use href="#d" x="25" y="90"/></g><g id="c140_3"><use href="#d" x="25" y="91"/></g><g id="c140_4"><use href="#d" x="25" y="92"/></g>
<g id="c141_1"><use href="#d" x="27" y="89"/></g><g id="c141_2"><use href="#d" x="27" y="90"/></g>
<g id="c142_1"><use href="#d" x="29" y="87"/></g><g id="c142_2"><use href="#d" x="29" y="88"/></g><g id="c142_3"><use href="#d" x="29" y="89"/></g><g id="c142_4"><use href="#d" x="29" y="90"/></g>
<g id="c143_1"><use href="#d" x="31" y="89"/></g><g id="c143_2"><use href="#d" x="31" y="90"/></g><g id="c143_3"><use href="#d" x="31" y="91"/></g><g id="c143_4"><use href="#d" x="31" y="92"/></g>
<g id="c144_1"><use href="#d" x="27" y="91"/></g><g id="c144_2"><use href="#d" x="27" y="92"/></g><g id="c144_3"><use href="#d" x="27" y="93"/></g><g id="c144_4"><use href="#d" x="27" y="94"/></g><g id="c144_5"><use href="#d" x="27" y="95"/></g><g id="c144_6"><use href="#d" x="27" y="96"/></g>
<g id="c145_1"><use href="#d" x="29" y="93"/></g><g id="c145_2"><use href="#d" x="29" y="94"/></g><g id="c145_3"><use href="#d" x="29" y="95"/></g><g id="c145_4"><use href="#d" x="29" y="96"/></g>
<g id="c146_1"><use href="#d" x="21" y="93"/></g><g id="c146_2"><use href="#d" x="21" y="94"/></g>
<g id="c147_1"><use href="#d" x="25" y="93"/></g><g id="c147_2"><use href="#d" x="25" y="94"/></g><g id="c147_3"><use href="#d" x="25" y="95"/></g><g id="c147_4"><use href="#d" x="25" y="96"/></g>
<g id="c148_1"><use href="#d" x="21" y="95"/></g><g id="c148_2"><use href="#d" x="21" y="96"/></g>
<g id="c149_1"><use href="#d" x="23" y="95"/></g><g id="c149_2"><use href="#d" x="23" y="96"/></g>
<g id="c150_1"><use href="#d" x="23.47" y="97"/></g><g id="c150_2"><use href="#d" x="23.47" y="98"/></g>
<g id="c151_1"><use href="#d" x="25.48" y="97"/></g><g id="c151_2"><use href="#d" x="25.48" y="98"/></g>
<g id="c152_1"><use href="#d" x="23.95" y="99"/></g><g id="c152_2"><use href="#d" x="23.95" y="100"/></g>
<g id="c153_1"><use href="#d" x="25.96" y="99"/></g><g id="c153_2"><use href="#d" x="25.96" y="100"/></g>
<g id="c154_1"><use href="#d" x="24.34" y="101"/></g><g id="c154_2"><use href="#d" x="24.34" y="102"/></g>
<g id="c155_1"><use href="#d" x="26.35" y="101"/></g><g id="c155_2"><use href="#d" x="26.35" y="102"/></g>
<g id="c156_1"><use href="#d" x="24.76" y="103"/></g><g id="c156_2"><use href="#d" x="24.76" y="104"/></g>
<g id="c157_1"><use href="#d" x="26.75" y="103"/></g><g id="c157_2"><use href="#d" x="26.75" y="104"/></g>
<g id="c158_1"><use href="#d" x="23.47" y="105"/></g><g id="c158_2"><use href="#d" x="23.47" y="106"/></g>
<g id="c159_1"><use href="#d" x="25.48" y="105"/></g><g id="c159_2"><use href="#d" x="25.48" y="106"/></g><g id="c159_3"><use href="#d" x="25.48" y="107"/></g><g id="c159_4"><use href="#d" x="25.48" y="108"/></g><g id="c159_5"><use href="#d" x="25.48" y="109"/></g><g id="c159_6"><use href="#d" x="25.48" y="110"/></g>
<g id="c160_1"><use href="#d" x="6" y="105"/></g><g id="c160_2"><use href="#d" x="6" y="106"/></g>
<g id="c161_1"><use href="#d" x="8.49" y="105"/></g><g id="c161_2"><use href="#d" x="8.49" y="106"/></g><g id="c161_3"><use href="#d" x="9" y="107"/></g><g id="c161_4"><use href="#d" x="9" y="108"/></g><g id="c161_5"><use href="#d" x="9" y="109"/></g><g id="c161_6"><use href="#d" x="9" y="110"/></g><g id="c161_7"><use href="#d" x="9" y="111"/></g><g id="c161_8"><use href="#d" x="9" y="112"/></g><g id="c161_9"><use href="#d" x="9" y="113"/></g><g id="c161_10"><use href="#d" x="9" y="114"/></g>
<g id="c162_1"><use href="#d" x="2" y="101"/></g><g id="c162_2"><use href="#d" x="2" y="102"/></g><g id="c162_3"><use href="#d" x="2" y="103"/></g><g id="c162_4"><use href="#d" x="2" y="104"/></g><g id="c162_5"><use href="#d" x="2" y="105"/></g><g id="c162_6"><use href="#d" x="2" y="106"/></g>
<g id="c163_1"><use href="#d" x="0" y="103"/></g><g id="c163_2"><use href="#d" x="0" y="104"/></g><g id="c163_3"><use href="#d" x="0" y="105"/></g><g id="c163_4"><use href="#d" x="0" y="106"/></g>
<g id="c164_1"><use href="#d" x="1" y="107"/></g><g id="c164_2"><use href="#d" x="1" y="108"/></g>
<g id="c165_1"><use href="#d" x="3" y="107"/></g><g id="c165_2"><use href="#d" x="3" y="108"/></g><g id="c165_3"><use href="#d" x="3" y="109"/></g><g id="c165_4"><use href="#d" x="3" y="110"/></g>
<g id="c166_1"><use href="#d" x="5" y="107"/></g><g id="c166_2"><use href="#d" x="5" y="108"/></g><g id="c166_3"><use href="#d" x="5" y="109"/></g><g id="c166_4"><use href="#d" x="5" y="110"/></g>
<g id="c167_1"><use href="#d" x="7" y="107"/></g><g id="c167_2"><use href="#d" x="7" y="108"/></g>
<g id="c168_1"><use href="#d" x="1" y="109"/></g><g id="c168_2"><use href="#d" x="1" y="110"/></g><g id="c168_3"><use href="#d" x="1" y="111"/></g><g id="c168_4"><use href="#d" x="1" y="112"/></g><g id="c168_5"><use href="#d" x="1" y="113"/></g><g id="c168_6"><use href="#d" x="1" y="114"/></g><g id="c168_7"><use href="#d" x="1" y="115"/></g><g id="c168_8"><use href="#d" x="1" y="116"/></g><g id="c168_9"><use href="#d" x="1" y="117"/></g><g id="c168_10"><use href="#d" x="1" y="118"/></g>
<g id="c169_1"><use href="#d" x="0" y="119"/></g><g id="c169_2"><use href="#d" x="0" y="120"/></g>
<g id="c170_1"><use href="#d" x="2" y="119"/></g><g id="c170_2"><use href="#d" x="2" y="120"/></g>
<g id="c171_1"><use href="#d" x="11" y="103"/></g><g id="c171_2"><use href="#d" x="11" y="104"/></g><g id="c171_3"><use href="#d" x="11" y="105"/></g><g id="c171_4"><use href="#d" x="11" y="106"/></g><g id="c171_5"><use href="#d" x="11" y="107"/></g><g id="c171_6"><use href="#d" x="11" y="108"/></g><g id="c171_7"><use href="#d" x="11" y="109"/></g><g id="c171_8"><use href="#d" x="11" y="110"/></g>
<g id="c172_1"><use href="#d" x="13" y="103"/></g><g id="c172_2"><use href="#d" x="13" y="104"/></g><g id="c172_3"><use href="#d" x="13" y="105"/></g><g id="c172_4"><use href="#d" x="13" y="106"/></g><g id="c172_5"><use href="#d" x="13" y="107"/></g><g id="c172_6"><use href="#d" x="13" y="108"/></g>
<g id="c173_1"><use href="#d" x="15" y="103"/></g><g id="c173_2"><use href="#d" x="15" y="104"/></g>
<g id="c174_1"><use href="#d" x="15" y="105"/></g><g id="c174_2"><use href="#d" x="15" y="106"/></g><g id="c174_3"><use href="#d" x="15" y="107"/></g><g id="c174_4"><use href="#d" x="15" y="108"/></g><g id="c174_5"><use href="#d" x="15" y="109"/></g><g id="c174_6"><use href="#d" x="15" y="110"/></g><g id="c174_7"><use href="#d" x="15" y="111"/></g><g id="c174_8"><use href="#d" x="15" y="112"/></g><g id="c174_9"><use href="#d" x="15" y="113"/></g><g id="c174_10"><use href="#d" x="15" y="114"/></g>
<g id="c175_1"><use href="#d" x="14" y="115"/></g><g id="c175_2"><use href="#d" x="14" y="116"/></g>
<g id="c176_1"><use href="#d" x="16" y="115"/></g><g id="c176_2"><use href="#d" x="16" y="116"/></g>
</g>
</g>
</svg>
